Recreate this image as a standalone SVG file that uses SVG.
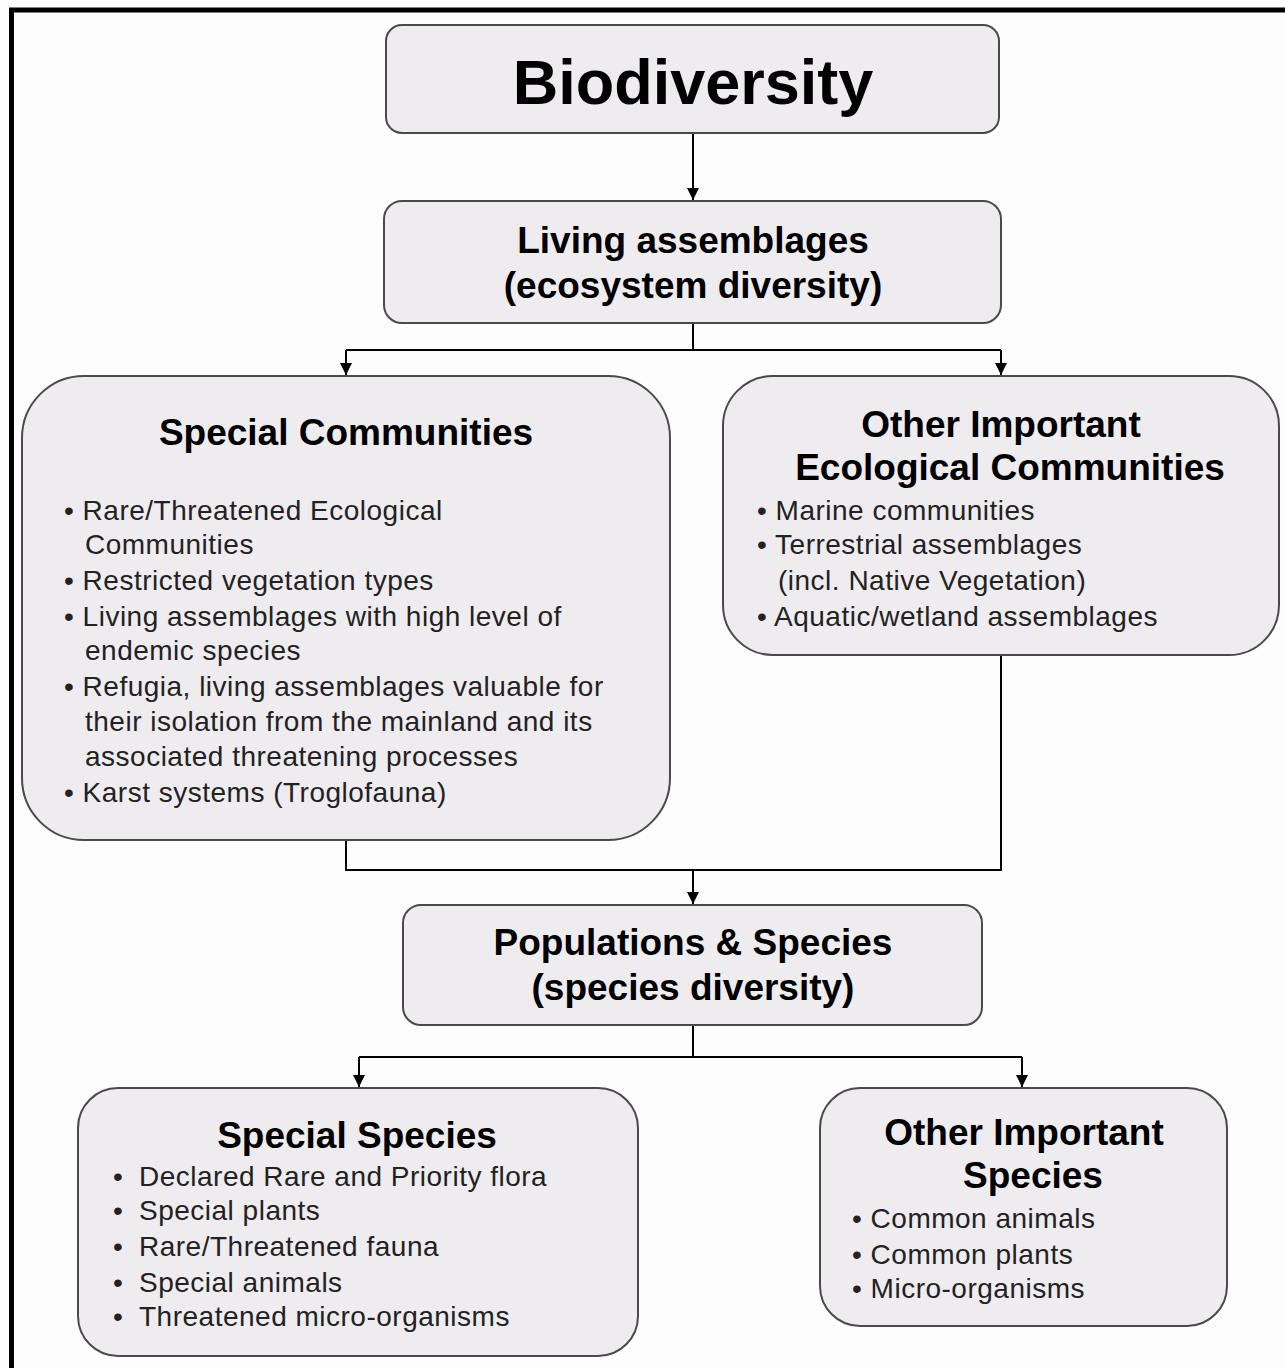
<svg xmlns="http://www.w3.org/2000/svg" width="1285" height="1368" viewBox="0 0 1285 1368">
<defs>
<style>
.box{fill:#efecf0;stroke:#4a4a4a;stroke-width:2}
.t{font-family:"Liberation Sans",Arial,sans-serif;font-weight:bold;fill:#000;text-anchor:middle}
.b{font-family:"Liberation Sans",Arial,sans-serif;font-size:28px;fill:#222;letter-spacing:0.5px}
.c{fill:none;stroke:#000;stroke-width:2}
</style>
<marker id="ah" markerWidth="12" markerHeight="12" viewBox="0 0 12 12" refX="12" refY="6" orient="auto" markerUnits="userSpaceOnUse">
<path d="M0,0 L12,6 L0,12 Z" fill="#000"/>
</marker>
</defs>
<rect x="0" y="0" width="1285" height="1368" fill="#fdfdfd"/>
<path d="M11.5,1368 V10 H1285" fill="none" stroke="#000" stroke-width="5"/>
<g id="connectors">
<path class="c" d="M693,133 V200" marker-end="url(#ah)"/>
<path class="c" d="M693,323 V350 M346,350 H1001"/>
<path class="c" d="M346,350 V375" marker-end="url(#ah)"/>
<path class="c" d="M1001,350 V375" marker-end="url(#ah)"/>
<path class="c" d="M346,840 V870 H1001 V655"/>
<path class="c" d="M693,870 V904" marker-end="url(#ah)"/>
<path class="c" d="M693,1025 V1057 M359,1057 H1022"/>
<path class="c" d="M359,1057 V1087" marker-end="url(#ah)"/>
<path class="c" d="M1022,1057 V1087" marker-end="url(#ah)"/>
</g>
<g id="biodiversity">
<rect class="box" x="386" y="25" width="613" height="108" rx="16"/>
<text class="t" x="693" y="104" font-size="63">Biodiversity</text>
</g>
<g id="living">
<rect class="box" x="384" y="201" width="617" height="122" rx="18"/>
<text class="t" x="693" y="253" font-size="37">Living assemblages</text>
<text class="t" x="693" y="298" font-size="37">(ecosystem diversity)</text>
</g>
<g id="special-communities">
<rect class="box" x="22" y="376" width="648" height="464" rx="62"/>
<text class="t" x="346" y="445" font-size="37">Special Communities</text>
<text class="b" x="64" y="520">• Rare/Threatened Ecological</text>
<text class="b" x="85" y="554">Communities</text>
<text class="b" x="64" y="590">• Restricted vegetation types</text>
<text class="b" x="64" y="626">• Living assemblages with high level of</text>
<text class="b" x="85" y="660">endemic species</text>
<text class="b" x="64" y="696">• Refugia, living assemblages valuable for</text>
<text class="b" x="85" y="731">their isolation from the mainland and its</text>
<text class="b" x="85" y="766">associated threatening processes</text>
<text class="b" x="64" y="802">• Karst systems (Troglofauna)</text>
</g>
<g id="other-communities">
<rect class="box" x="723" y="376" width="556" height="279" rx="50"/>
<text class="t" x="1001" y="437" font-size="37">Other Important</text>
<text class="t" x="1010" y="480" font-size="37">Ecological Communities</text>
<text class="b" x="757" y="520">• Marine communities</text>
<text class="b" x="757" y="554">• Terrestrial assemblages</text>
<text class="b" x="778" y="590">(incl. Native Vegetation)</text>
<text class="b" x="757" y="626">• Aquatic/wetland assemblages</text>
</g>
<g id="populations">
<rect class="box" x="403" y="905" width="579" height="120" rx="18"/>
<text class="t" x="693" y="955" font-size="37">Populations &amp; Species</text>
<text class="t" x="693" y="1000" font-size="37">(species diversity)</text>
</g>
<g id="special-species">
<rect class="box" x="78" y="1088" width="560" height="268" rx="40"/>
<text class="t" x="357" y="1148" font-size="37">Special Species</text>
<text class="b" y="1186"><tspan x="113">•</tspan><tspan x="139">Declared Rare and Priority flora</tspan></text>
<text class="b" y="1220"><tspan x="113">•</tspan><tspan x="139">Special plants</tspan></text>
<text class="b" y="1256"><tspan x="113">•</tspan><tspan x="139">Rare/Threatened fauna</tspan></text>
<text class="b" y="1292"><tspan x="113">•</tspan><tspan x="139">Special animals</tspan></text>
<text class="b" y="1326"><tspan x="113">•</tspan><tspan x="139">Threatened micro-organisms</tspan></text>
</g>
<g id="other-species">
<rect class="box" x="820" y="1088" width="407" height="238" rx="40"/>
<text class="t" x="1024" y="1145" font-size="37">Other Important</text>
<text class="t" x="1033" y="1188" font-size="37">Species</text>
<text class="b" x="852" y="1228">• Common animals</text>
<text class="b" x="852" y="1264">• Common plants</text>
<text class="b" x="852" y="1298">• Micro-organisms</text>
</g>
</svg>
